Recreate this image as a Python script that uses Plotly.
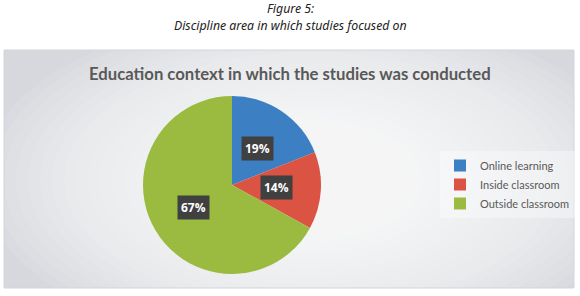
import math
import plotly.graph_objects as go

labels = ["Online learning", "Inside classroom", "Outside classroom"]
values = [19, 14, 67]
colors = ["#3C7FC3", "#DA5343", "#9BBB40"]
pct_text = ["19%", "14%", "67%"]

W, H = 580, 296
cx, cy, R = 232, 185, 89  # pie centre / radius in pixels

fig = go.Figure()
fig.add_trace(go.Pie(
    labels=labels, values=values, sort=False, direction="clockwise", rotation=0,
    marker=dict(colors=colors, line=dict(width=0)),
    textinfo="none", hoverinfo="label+percent",
    domain=dict(x=[(cx - R) / W, (cx + R) / W], y=[1 - (cy + R) / H, 1 - (cy - R) / H]),
    showlegend=True,
))

# background box with radial-ish gradient
shapes = [dict(type="rect", xref="paper", yref="paper",
               x0=4 / W, x1=574 / W, y0=1 - 288 / H, y1=1 - 50 / H,
               fillcolor="#D6D8DD", line=dict(width=0), layer="below")]
gx, gy = 310, 180
n = 26
for i in range(n):
    rx = 330 - i * 12
    ry = 170 - i * 6
    shapes.append(dict(type="circle", xref="paper", yref="paper",
                       x0=(gx - rx) / W, x1=(gx + rx) / W,
                       y0=1 - (gy + ry) / H, y1=1 - (gy - ry) / H,
                       fillcolor="rgba(255,255,255,0.085)", line=dict(width=0), layer="below"))
# keep gradient inside box: cover outside region with white
shapes += [
    dict(type="rect", xref="paper", yref="paper", x0=0, x1=1, y0=1 - 50 / H, y1=1,
         fillcolor="white", line=dict(width=0), layer="below"),
    dict(type="rect", xref="paper", yref="paper", x0=0, x1=1, y0=0, y1=1 - 288 / H,
         fillcolor="white", line=dict(width=0), layer="below"),
    dict(type="rect", xref="paper", yref="paper", x0=0, x1=4 / W, y0=0, y1=1,
         fillcolor="white", line=dict(width=0), layer="below"),
    dict(type="rect", xref="paper", yref="paper", x0=574 / W, x1=1, y0=0, y1=1,
         fillcolor="white", line=dict(width=0), layer="below"),
    dict(type="rect", xref="paper", yref="paper",
         x0=4 / W, x1=574 / W, y0=1 - 288 / H, y1=1 - 50 / H,
         fillcolor="rgba(0,0,0,0)", line=dict(color="#D3D5D9", width=1), layer="below"),
]

annotations = []
total = sum(values)
cum = 0
for v, t in zip(values, pct_text):
    mid = (cum + v / 2) / total * 2 * math.pi
    cum += v
    px = cx + 0.5 * R * math.sin(mid)
    py = cy - 0.5 * R * math.cos(mid)
    annotations.append(dict(x=px / W, y=1 - py / H, xref="paper", yref="paper",
                            xanchor="center", yanchor="middle",
                            text="<b>%s</b>" % t, showarrow=False,
                            font=dict(family="Open Sans", size=12, color="white"),
                            bgcolor="#404040", borderpad=3))

annotations += [
    dict(x=0.5, y=1 - 9 / H, xref="paper", yref="paper", text="<i>Figure 5:</i>",
         xanchor="center", yanchor="middle",
         showarrow=False, font=dict(family="Noto Sans", size=12.3, color="#222222")),
    dict(x=0.5, y=1 - 26 / H, xref="paper", yref="paper",
         text="<i>Discipline area in which studies focused on</i>",
         xanchor="center", yanchor="middle",
         showarrow=False, font=dict(family="Noto Sans", size=12.3, color="#222222")),
    dict(x=290 / W, y=1 - 74 / H, xref="paper", yref="paper",
         text="<b>Education context in which the studies was conducted</b>",
         xanchor="center", yanchor="middle",
         showarrow=False, font=dict(family="Lato", size=16.7, color="#595959")),
]

fig.update_layout(
    width=W, height=H, margin=dict(l=0, r=0, t=0, b=0),
    paper_bgcolor="white", plot_bgcolor="white",
    shapes=shapes, annotations=annotations,
    legend=dict(x=440 / W, y=1 - 151 / H, xanchor="left", yanchor="top",
                bgcolor="rgba(255,255,255,0.35)", borderwidth=0,
                font=dict(family="Lato", size=11, color="#595959"),
                itemwidth=30, traceorder="normal"),
)

fig.write_html("out.html", config={"displayModeBar": False},
               post_script="document.body.style.margin='0px';")
